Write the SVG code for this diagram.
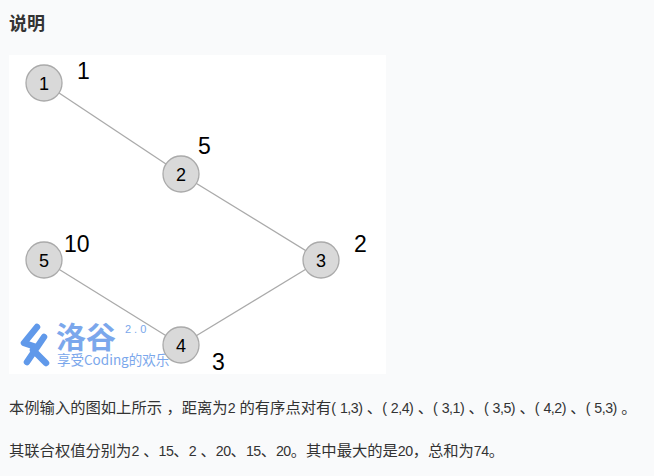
<svg xmlns="http://www.w3.org/2000/svg" width="654" height="476" viewBox="0 0 654 476">
<style>
.node circle{fill:#d9d9d9;stroke:#aaaaaa;stroke-width:1.3}
.node text{font-family:"Liberation Sans",Arial,sans-serif;font-size:18px;fill:#000;text-anchor:middle}
.w{font-family:"Liberation Sans",Arial,sans-serif;font-size:23px;fill:#000}
.edges line{stroke:#aaaaaa;stroke-width:1.3}
.para{font-family:"Noto Sans CJK SC","Liberation Sans",sans-serif;font-size:15.3px;fill:#333}
.l{font-family:"Liberation Sans",sans-serif;font-size:14.2px;letter-spacing:-0.5px;word-spacing:1px}
.wm{fill:#6d9eea;font-family:"Noto Sans CJK SC",sans-serif}
</style>
<rect width="654" height="476" fill="#f9fafb"/>
<text x="9" y="30" style="font-family:'Noto Sans CJK SC',sans-serif;font-size:18px;font-weight:bold;fill:#333">说明</text>
<rect x="9" y="55" width="377" height="319" fill="#ffffff"/>
<g id="watermark" opacity="0.9">
<path d="M37 327 L24 343 L36 347 M44 337 L27 362 M33 350 L46 363" fill="none" stroke="#4f8ee8" stroke-width="6.5" stroke-linecap="round" stroke-linejoin="round"/>
<text class="wm" x="56" y="348" style="font-size:30px;font-weight:bold">洛谷</text>
<text class="wm" x="125" y="333" style="font-size:11px;letter-spacing:3px;font-family:'Liberation Sans',sans-serif">2.0</text>
<text class="wm" x="57" y="365" style="font-size:13.5px">享受Coding的欢乐</text>
</g>
<g class="edges" id="edges">
<line x1="44" y1="83" x2="181" y2="174"/>
<line x1="181" y1="174" x2="321" y2="260"/>
<line x1="321" y1="260" x2="181" y2="345"/>
<line x1="44" y1="260" x2="181" y2="345"/>
</g>
<g class="node" id="n1"><circle cx="44" cy="83" r="18"/><text x="44" y="89.5">1</text></g>
<g class="node" id="n2"><circle cx="181" cy="174" r="18"/><text x="181" y="180.5">2</text></g>
<g class="node" id="n3"><circle cx="321" cy="260" r="18"/><text x="321" y="266.5">3</text></g>
<g class="node" id="n4"><circle cx="181" cy="345" r="18"/><text x="181" y="351.5">4</text></g>
<g class="node" id="n5"><circle cx="44" cy="260" r="18"/><text x="44" y="266.5">5</text></g>
<g id="weights">
<text class="w" x="77" y="79">1</text>
<text class="w" x="198" y="154">5</text>
<text class="w" x="354" y="252">2</text>
<text class="w" x="64" y="252">10</text>
<text class="w" x="212" y="370">3</text>
</g>
<text class="para" x="9" y="413">本例输入的图如上所示<tspan class="l"> </tspan>，距离为<tspan class="l">2 </tspan>的有序点对有<tspan class="l">( 1,3) </tspan>、<tspan class="l">( 2,4) </tspan>、<tspan class="l">( 3,1) </tspan>、<tspan class="l">( 3,5) </tspan>、<tspan class="l">( 4,2) </tspan>、<tspan class="l">( 5,3) </tspan>。</text>
<text class="para" x="9" y="456">其联合权值分别为<tspan class="l">2 </tspan>、<tspan class="l">15</tspan>、<tspan class="l">2 </tspan>、<tspan class="l">20</tspan>、<tspan class="l">15</tspan>、<tspan class="l">20</tspan>。其中最大的是<tspan class="l">20</tspan>，总和为<tspan class="l">74</tspan>。</text>
</svg>
